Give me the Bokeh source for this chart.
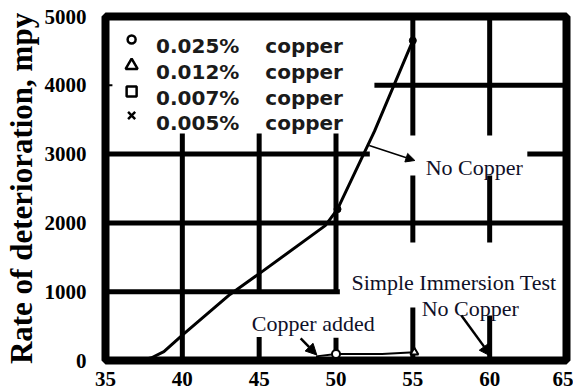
from bokeh.plotting import figure
from bokeh.models import Range1d, FixedTicker, Arrow, NormalHead, ColumnDataSource
from bokeh.core.properties import value
from bokeh.embed import file_html
from bokeh.resources import INLINE

# Rate of deterioration (mpy) vs temperature, no copper in solution
temp_no_copper = [37.3, 38.0, 38.8, 40.0, 43.1, 45.3, 49.3, 50.1, 52.5, 55.0]
rate_no_copper = [0, 40, 130, 370, 960, 1310, 1960, 2200, 3330, 4650]
temp_no_copper_pts = [50.1, 55.0]
rate_no_copper_pts = [2200, 4650]

# Copper added: rate stays close to zero
temp_copper = [48.7, 50.0, 53.0, 55.1]
rate_copper = [60, 95, 95, 120]
temp_copper_pts = [50.0, 55.1]
rate_copper_pts = [95, 120]
marker_copper_pts = ["circle", "triangle"]

# Legend entries
legend_pct = ["0.025%", "0.012%", "0.007%", "0.005%"]
legend_word = ["copper", "copper", "copper", "copper"]
legend_markers = ["circle", "triangle", "square", "x"]

x_ticks = [35, 40, 45, 50, 55, 60, 65]
y_ticks = [0, 1000, 2000, 3000, 4000, 5000]

SERIF = "Liberation Serif"
SANS = "DejaVu Sans"
INK = "#101028"

p = figure(width=573, height=390, x_range=Range1d(35, 65), y_range=Range1d(0, 5000),
           output_backend="svg", toolbar_location=None,
           min_border_left=101, min_border_right=7, min_border_top=16, min_border_bottom=30)
p.background_fill_color = "white"
p.border_fill_color = "white"
p.xgrid.visible = False
p.ygrid.visible = False
p.outline_line_color = "black"
p.outline_line_width = 8
p.outline_line_alpha = 1.0

for ax in (p.xaxis[0], p.yaxis[0]):
    ax.axis_line_color = None
    ax.major_tick_line_color = None
    ax.minor_tick_line_color = None
    ax.major_label_text_font = SERIF
    ax.major_label_text_font_style = "bold"
    ax.major_label_text_font_size = "21px"
    ax.major_label_text_color = "black"

p.xaxis.ticker = FixedTicker(ticks=x_ticks)
p.yaxis.ticker = FixedTicker(ticks=y_ticks)
p.xaxis.major_label_standoff = 5
p.yaxis.major_label_standoff = 13
p.yaxis.axis_label = "Rate of deterioration, mpy"
p.yaxis.axis_label_text_font = SERIF
p.yaxis.axis_label_text_font_style = "bold"
p.yaxis.axis_label_text_font_size = "31px"
p.yaxis.axis_label_text_color = "black"
p.yaxis.axis_label_standoff = 3

# Hand-drawn grid, broken around the legend and the notes
grid_x0 = [35, 35, 35, 62.45, 52.5, 40, 45, 45, 50, 50, 55, 55, 55, 60, 60, 60]
grid_y0 = [1000, 2000, 3000, 3000, 4000, 0, 1000, 0, 1000, 0, 3270, 1715, 0, 3270, 1715, 0]
grid_x1 = [50.25, 65, 52.2, 65, 65, 40, 45, 45, 50, 50, 55, 55, 55, 60, 60, 60]
grid_y1 = [1000, 2000, 3000, 3000, 4000, 3300, 3300, 340, 3300, 330, 5000, 2690, 770, 5000, 2690, 654]
p.segment(x0=grid_x0, y0=grid_y0, x1=grid_x1, y1=grid_y1,
          line_color="black", line_width=5, line_cap="butt")

# Small tick on the left edge at 4000
p.segment(x0=[35], y0=[4000], x1=[35.45], y1=[4000], line_color="black", line_width=2)

# No-copper curve
p.line(temp_no_copper, rate_no_copper, line_color="black", line_width=3)
p.scatter(temp_no_copper_pts, rate_no_copper_pts, marker="circle", size=7,
          fill_color="black", line_color="black")

# Copper-added series along the bottom
p.line(temp_copper, rate_copper, line_color="black", line_width=2)
cu_src = ColumnDataSource(dict(x=temp_copper_pts, y=rate_copper_pts, m=marker_copper_pts))
p.scatter("x", "y", marker="m", source=cu_src, size=8, fill_color="white",
          line_color="black", line_width=2)

# Legend
leg_marker_x = [36.7] * 4
leg_marker_y = [4666, 4288, 3910, 3561]
leg_text_y = [4578, 4190, 3815, 3459]
leg_src = ColumnDataSource(dict(x=leg_marker_x, y=leg_marker_y, m=legend_markers,
                                s=[8, 12, 10, 10]))
p.scatter("x", "y", marker="m", size="s", source=leg_src, fill_color="white",
          line_color="black", line_width=2.5)
p.text(x=[38.29] * 4, y=leg_text_y, text=legend_pct, text_font=value(SANS),
       text_font_style="bold", text_font_size="20px", text_color="#1a1a1a",
       text_align="left", text_baseline="alphabetic")
p.text(x=[45.4] * 4, y=leg_text_y, text=legend_word, text_font=value(SANS),
       text_font_style="bold", text_font_size="20px", text_color="#1a1a1a",
       text_align="left", text_baseline="alphabetic")

# Notes
note_text = ["No Copper", "Simple Immersion Test", "No Copper", "Copper added"]
note_x = [59.0, 57.68, 58.74, 48.52]
note_y = [2805, 1134, 756, 538]
p.text(x=note_x, y=note_y, text=note_text, text_font=value(SERIF),
       text_font_size="22px", text_color=INK, text_align="center",
       text_baseline="alphabetic")

# Arrows pointing at the curves
arrows = [
    (52.16, 3125, 55.13, 2907, 1.5, 9),
    (58.16, 654, 60.1, 60, 2.5, 12),
    (47.7, 320, 48.75, 80, 2.5, 11),
]
for xs, ys, xe, ye, lw, hs in arrows:
    p.add_layout(Arrow(end=NormalHead(size=hs, fill_color="black", line_color="black"),
                       x_start=xs, y_start=ys, x_end=xe, y_end=ye,
                       line_color="black", line_width=lw))

open("out.html", "w").write(file_html(p, INLINE))
